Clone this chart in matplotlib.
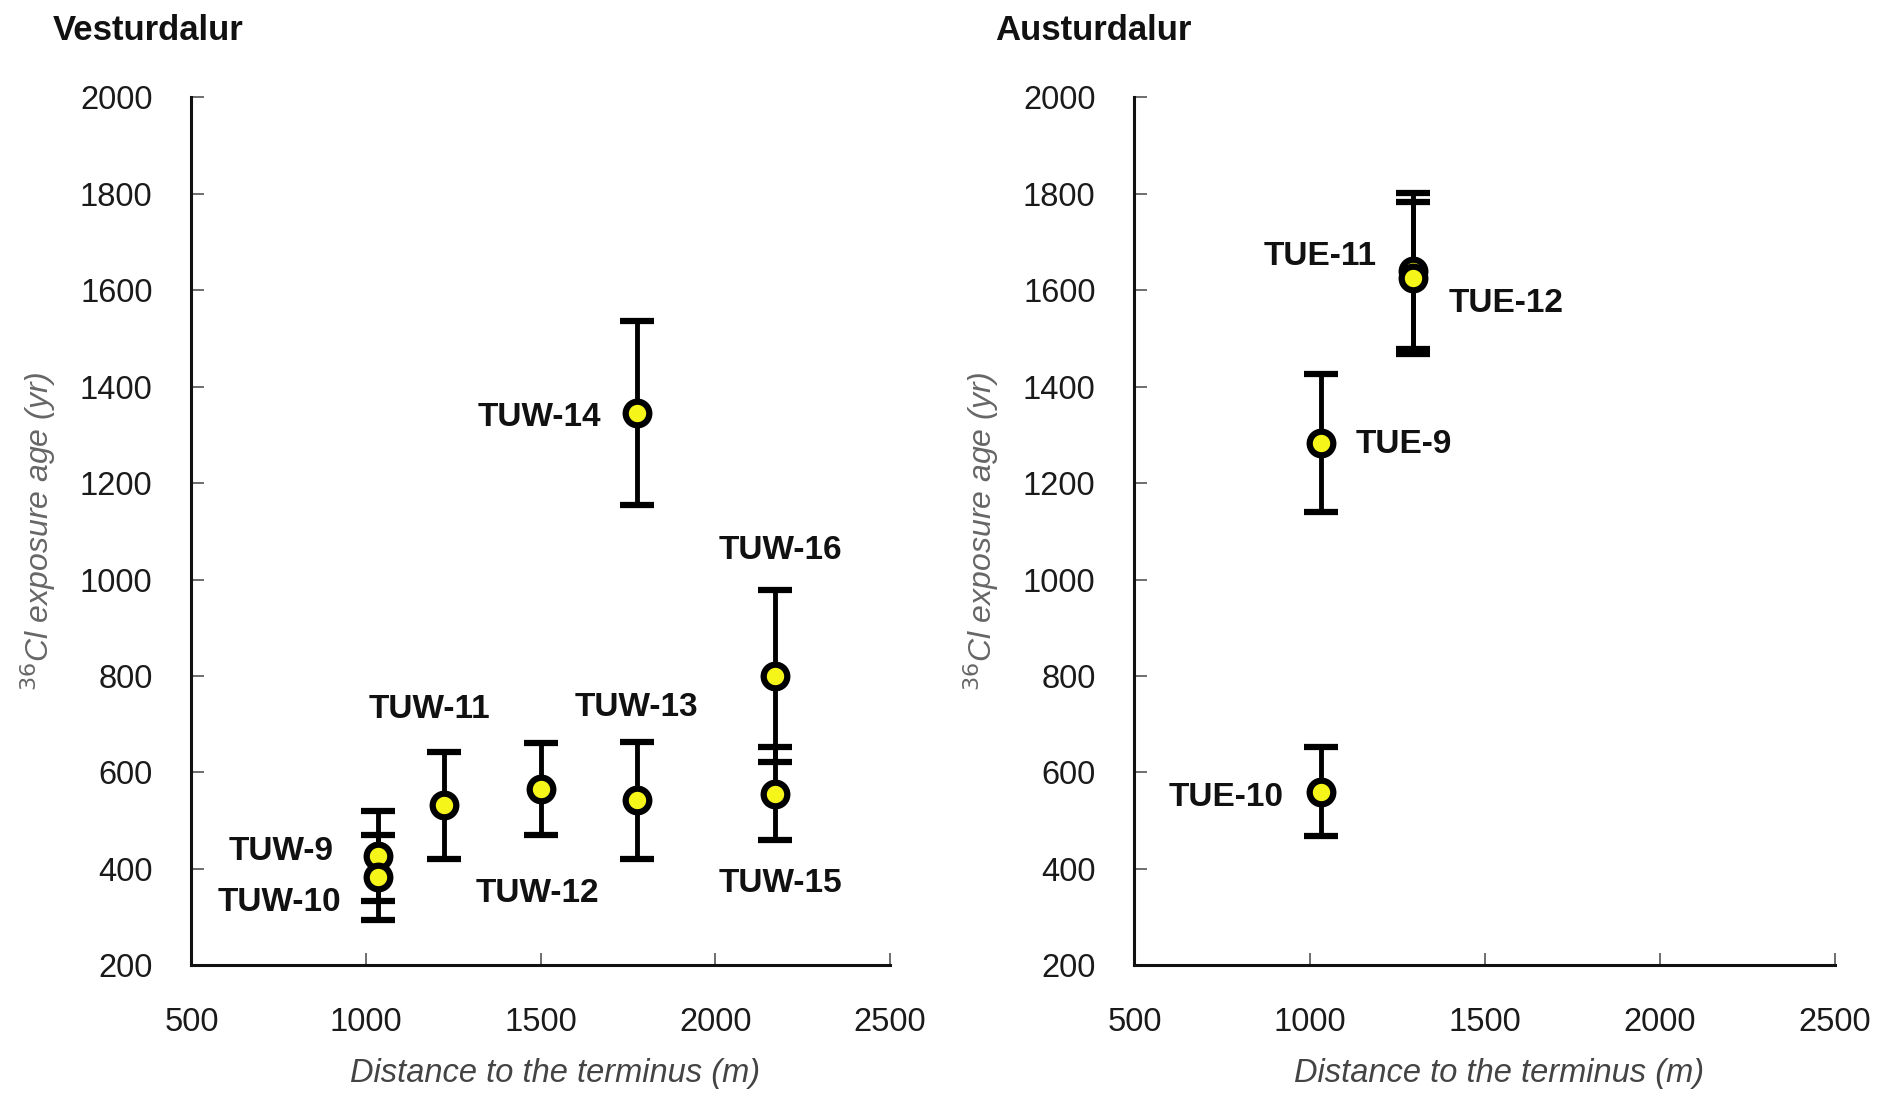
import matplotlib
matplotlib.use('Agg')
import matplotlib.pyplot as plt

# Vesturdalur (west) samples
west_names = ['TUW-9', 'TUW-10', 'TUW-11', 'TUW-12', 'TUW-13', 'TUW-14', 'TUW-15', 'TUW-16']
west_dist = [1035, 1035, 1222, 1502, 1775, 1775, 2170, 2170]
west_age = [427, 383, 532, 566, 542, 1345, 556, 800]
west_err = [93, 88, 111, 95, 122, 190, 96, 178]

# Austurdalur (east) samples
east_names = ['TUE-11', 'TUE-12', 'TUE-9', 'TUE-10']
east_dist = [1296, 1296, 1034, 1034]
east_age = [1640, 1625, 1283, 560]
east_err = [162, 158, 143, 92]

x_ticks = [500, 1000, 1500, 2000, 2500]
y_ticks = [200, 400, 600, 800, 1000, 1200, 1400, 1600, 1800, 2000]

# label offsets (points) relative to each point
west_off = {'TUW-9': (-70, 3), 'TUW-10': (-71, -18), 'TUW-11': (-10, 69),
            'TUW-12': (-3, -75), 'TUW-13': (0, 67), 'TUW-14': (-70, -3),
            'TUW-15': (4, -65), 'TUW-16': (4, 90)}
east_off = {'TUE-11': (-67, 10), 'TUE-12': (67, -18), 'TUE-9': (59, -1),
            'TUE-10': (-69, -4)}

plt.rcParams['font.family'] = ['Liberation Sans', 'DejaVu Sans']

fig = plt.figure(figsize=(18.81, 10.96), dpi=100, facecolor='white')
axL = fig.add_axes([0.1018, 0.1192, 0.3714, 0.7921])
axR = fig.add_axes([0.6031, 0.1192, 0.3724, 0.7921])


def draw(ax, names, dist, age, err, offs, title):
    ax.errorbar(dist, age, yerr=err, fmt='o', color='black', ecolor='black',
                elinewidth=3.5, capsize=12, capthick=3.5, ms=17,
                mfc='#f5f51a', mec='black', mew=4.5, zorder=3)
    for n, x, y in zip(names, dist, age):
        dx, dy = offs[n]
        ax.annotate(n, (x, y), xytext=(dx, dy), textcoords='offset points',
                    ha='center', va='center', fontsize=24, fontweight='bold',
                    color='#111111')
    ax.set_xlim(500, 2500)
    ax.set_ylim(200, 2000)
    ax.set_xticks(x_ticks)
    ax.set_yticks(y_ticks)
    for s in ('top', 'right'):
        ax.spines[s].set_visible(False)
    for s in ('left', 'bottom'):
        ax.spines[s].set_linewidth(2.2)
        ax.spines[s].set_color('#111111')
    ax.tick_params(direction='in', length=9, width=1.2, colors='#555555',
                   labelcolor='#1a1a1a', labelsize=23.5)
    ax.tick_params(axis='y', pad=28)
    ax.tick_params(axis='x', pad=30)
    ax.set_xlabel('Distance to the terminus (m)', fontsize=23.5, fontstyle='italic',
                  color='#444444')
    ax.xaxis.label.set_va('center')
    ax.xaxis.set_label_coords(0.52, -0.125)
    ax.set_ylabel('$^{36}$Cl exposure age (yr)', fontsize=23, fontstyle='italic',
                  color='#666666', labelpad=16)
    fig.text(ax.get_position().x0 - 0.074, 0.972, title, fontsize=25,
             fontweight='bold', color='#111111', ha='left', va='center')


draw(axL, west_names, west_dist, west_age, west_err, west_off, 'Vesturdalur')
draw(axR, east_names, east_dist, east_age, east_err, east_off, 'Austurdalur')

fig.savefig('out.png', dpi=100, facecolor='white')
